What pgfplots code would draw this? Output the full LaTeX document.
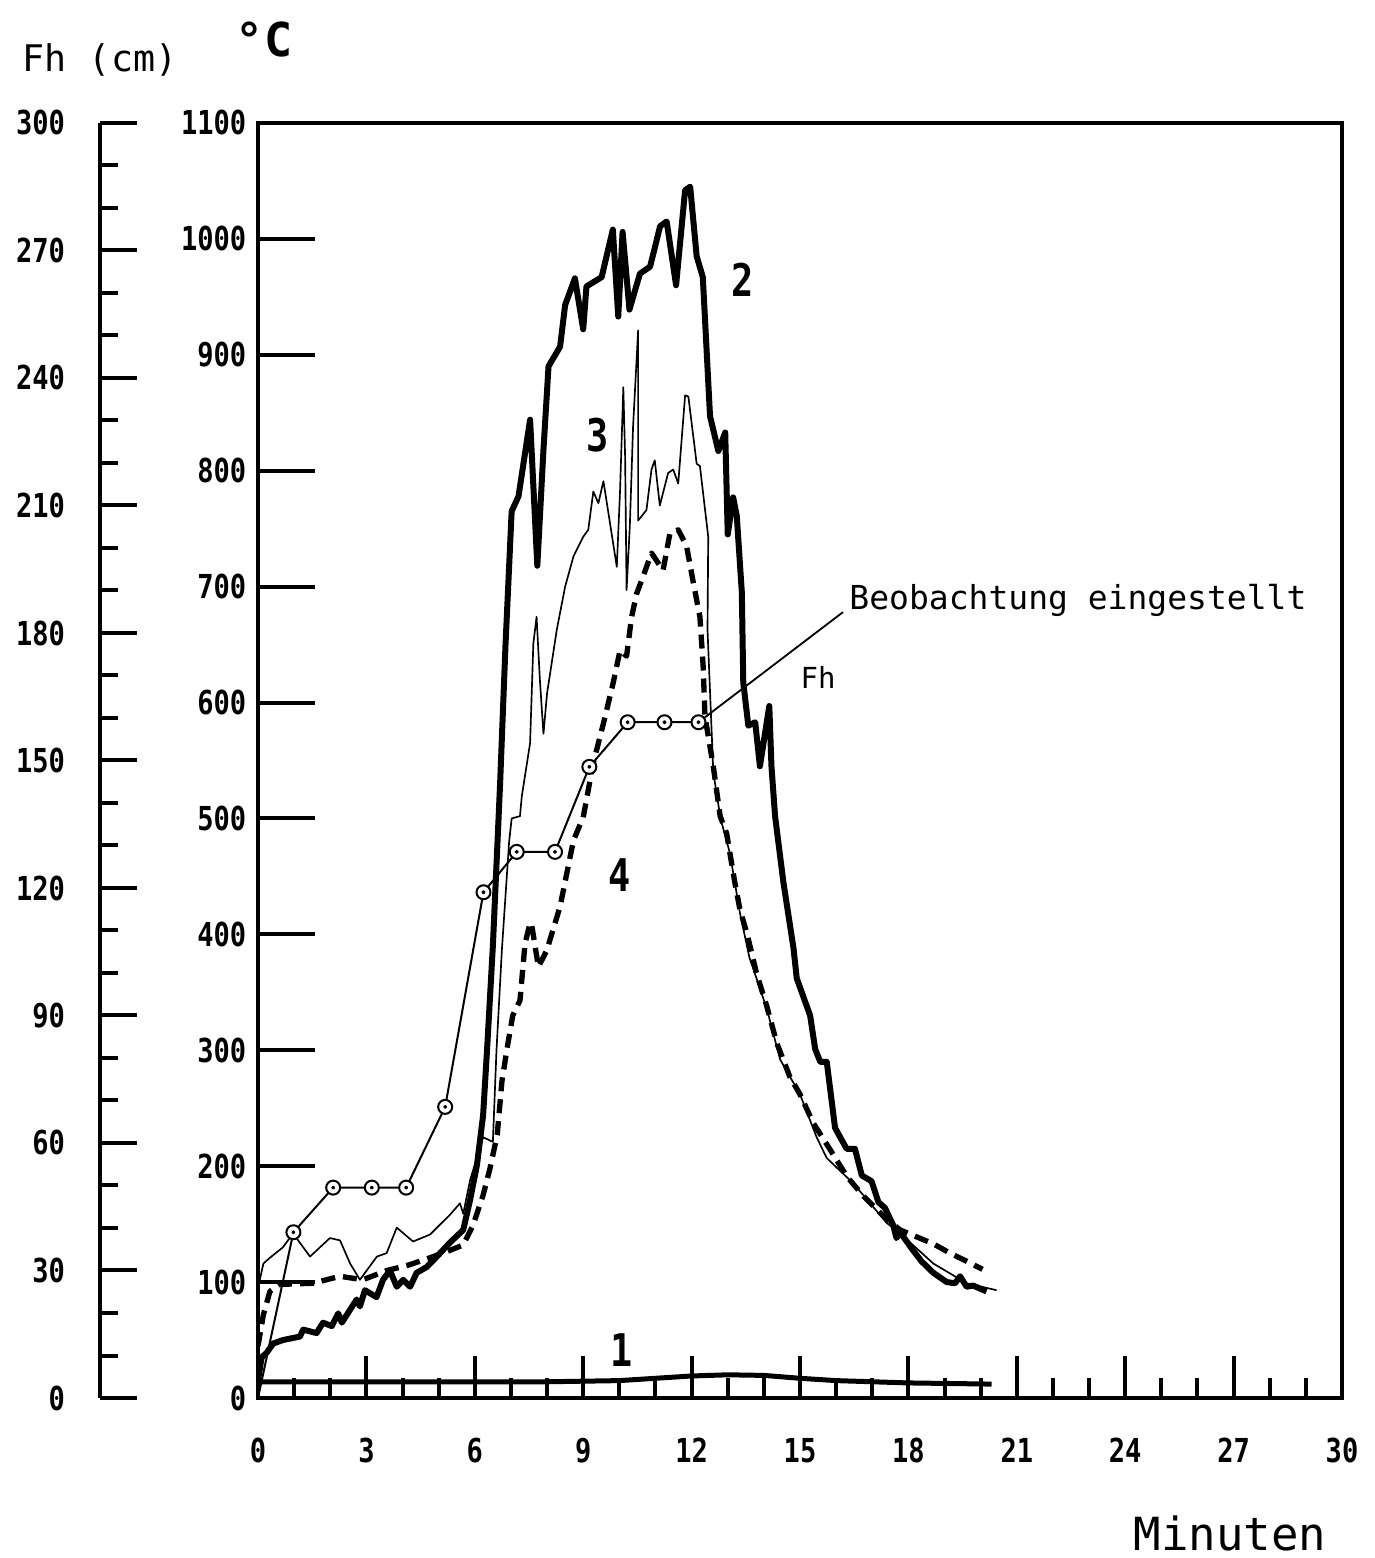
\documentclass[border=0pt]{standalone}
\usepackage{pgfplots}
\usepackage{pgfplotstable}
\pgfplotsset{compat=1.18}
\usepackage{fontspec}
\setmainfont{DejaVu Sans Mono}
\newfontfamily\tickfont[FakeStretch=0.82,BoldFont={DejaVu Sans Mono Bold}]{DejaVu Sans Mono}

% curve 2 (thick solid), t in min, c in degC
\pgfplotstableread{
t c
0 15
0.1 35
0.24 39
0.42 47
0.69 50
1.16 53
1.25 59
1.62 56
1.80 65
2.04 62
2.22 73
2.32 65
2.73 85
2.82 79
2.96 93
3.28 87
3.46 102
3.65 110
3.84 96
4.02 102
4.21 96
4.39 108
4.67 113
4.95 122
5.31 134
5.68 145
5.87 171
6.06 201
6.23 244
6.34 301
6.5 390
6.7 530
6.85 650
7.02 765
7.21 778
7.53 844
7.73 718
7.90 818
8.04 890
8.36 907
8.50 943
8.77 966
9.0 922
9.09 959
9.51 967
9.82 1008
9.97 933
10.09 1006
10.28 939
10.57 970
10.85 976
11.13 1011
11.31 1015
11.57 960
11.82 1042
11.96 1045
12.14 985
12.31 967
12.51 847
12.74 817
12.93 833
13.0 745
13.15 777
13.25 761
13.39 695
13.43 617
13.57 580
13.76 583
13.89 545
14.15 597
14.21 545
14.31 502
14.54 445
14.82 388
14.91 362
15.28 330
15.42 301
15.56 290
15.74 290
15.97 233
16.29 215
16.52 215
16.71 192
16.98 187
17.17 169
17.35 164
17.58 149
17.67 138
17.77 143
18.09 129
18.36 118
18.69 108
19.06 100
19.29 99
19.43 105
19.61 96
19.79 97
20.16 92
}\curvetwo

% curve 3 (thin solid)
\pgfplotstableread{
t c
0 95
0.15 116
0.33 121
0.69 130
0.97 142
1.44 122
1.99 138
2.27 136
2.55 116
2.82 102
3.29 122
3.56 125
3.84 147
4.29 135
4.76 141
5.31 158
5.59 168
5.68 159
5.87 188
6.23 225
6.50 221
6.6 300
6.75 387
6.95 480
7.02 500
7.25 502
7.30 519
7.53 565
7.62 651
7.71 674
7.80 620
7.90 573
8.0 608
8.27 663
8.50 700
8.73 726
9.0 743
9.14 749
9.28 782
9.42 772
9.56 791
9.74 755
9.93 717
10.02 783
10.11 872
10.16 812
10.20 697
10.29 752
10.38 838
10.52 921
10.52 757
10.75 766
10.89 801
10.98 809
11.12 770
11.35 798
11.49 801
11.63 789
11.82 865
11.91 864
12.14 806
12.23 804
12.46 743
12.44 663
12.6 540
12.8 500
13.06 470
13.34 418
13.6 380
14.08 336
14.45 292
15.0 262
15.46 225
15.74 207
16.48 185
17.40 151
17.77 142
18.69 116
19.61 99
20.44 93
}\curvethree

% curve 4 (thick dashed)
\pgfplotstableread{
t c
0 45
0.15 72
0.33 92
0.6 98
1.52 99
2.27 105
2.9 102
3.57 110
4.2 115
4.76 121
5.2 126
5.68 132
5.95 149
6.23 175
6.42 198
6.62 227
6.75 273
6.89 301
7.05 330
7.25 343
7.39 392
7.53 410
7.57 409
7.76 372
7.99 386
8.36 424
8.73 481
9.0 501
9.28 548
9.56 582
9.83 617
10.02 645
10.20 640
10.34 674
10.48 694
10.66 709
10.89 729
11.21 714
11.40 746
11.63 749
11.86 735
12.05 703
12.23 674
12.32 631
12.37 588
12.60 545
12.79 502
12.97 487
13.20 444
13.34 421
13.53 401
13.80 366
14.08 338
14.36 306
14.72 277
15.0 262
15.37 237
15.84 214
16.30 191
16.76 174
17.31 157
17.77 145
18.23 139
18.69 133
19.15 125
19.61 118
20.05 111
}\curvefour

% curve 1 (thick solid, near the base)
\pgfplotstableread{
t c
0 14
4 14
8 14
10 15
11 17
12 19
13 20
14 19.5
15 17
16 15
17 14
18 13
20.3 12
}\curveone

% Fh in cm
\pgfplotstableread{
t fh
0 0
0.98 39
2.08 49.5
3.15 49.5
4.10 49.5
5.18 68.5
6.24 119
7.16 128.5
8.22 128.5
9.17 148.5
10.23 159
11.25 159
12.19 159
}\fhdata

\begin{document}
\begin{tikzpicture}
% Fh (cm) scale
\begin{axis}[
  at={(-47.4pt,0pt)}, anchor=south west,
  scale only axis, width=10pt, height=382.5pt,
  xmin=0, xmax=1, ymin=0, ymax=300,
  hide x axis, axis y line*=left,
  axis line style={-, line width=1.2pt},
  every outer y axis line/.append style={-},
  ytick={0,30,...,300}, minor y tick num=2,
  tick align=inside, major tick length=11pt, minor tick length=5.5pt,
  every tick/.style={line width=1.2pt, black},
  yticklabel style={font=\tickfont\bfseries\fontsize{9.9}{10}\selectfont, xshift=-7pt},
  /pgf/number format/assume math mode=true,
]
\addplot[draw=none] coordinates {(0,0)};
\end{axis}
% x ticks of the main frame
\begin{axis}[
  at={(0pt,0pt)}, anchor=south west,
  scale only axis, width=325.2pt, height=382.5pt,
  xmin=0, xmax=30, ymin=0, ymax=1100,
  hide y axis, axis x line*=bottom,
  axis line style={-, line width=1.2pt},
  every outer x axis line/.append style={-},
  xtick={0,3,...,30}, minor x tick num=2,
  tick align=inside, major tick length=12.6pt, minor tick length=6pt,
  every tick/.style={line width=1.2pt, black},
  xticklabel style={font=\tickfont\bfseries\fontsize{9.9}{10}\selectfont, yshift=-8.5pt},
  /pgf/number format/assume math mode=true,
]
\addplot[draw=none] coordinates {(0,0)};
\end{axis}
% main frame and curves
\begin{axis}[
  at={(0pt,0pt)}, anchor=south west,
  scale only axis, width=325.2pt, height=382.5pt,
  xmin=0, xmax=30, ymin=0, ymax=1100,
  axis line style={line width=1.2pt},
  xtick=\empty,
  ytick={0,100,...,1100}, ytick pos=left,
  tick align=inside, major tick length=17pt,
  every tick/.style={line width=1.2pt, black},
  yticklabel style={font=\tickfont\bfseries\fontsize{9.9}{10}\selectfont},
  /pgf/number format/assume math mode=true,
  /pgf/number format/1000 sep={},
  every axis plot/.append style={line join=round},
]
\addplot[black, line width=1.5pt] table[x=t,y=c] {\curveone};
\addplot[black, line width=1.2pt] coordinates {(0,100) (1.25,100)};
\addplot[black, line width=0.5pt] table[x=t,y=c] {\curvethree};
\addplot[black, line width=1.6pt, dash pattern=on 4.2pt off 2.4pt] table[x=t,y=c] {\curvefour};
\addplot[black, line width=1.8pt] table[x=t,y=c] {\curvetwo};
\addplot[black, line width=0.6pt, mark=*, mark size=2.1pt, mark indices={2,...,13},
  mark options={fill=white, line width=0.6pt}]
  table[x=t, y expr=\thisrow{fh}*11/3] {\fhdata};
\addplot[only marks, mark=*, mark size=0.4pt, mark indices={2,...,13}, black]
  table[x=t, y expr=\thisrow{fh}*11/3] {\fhdata};
\draw[line width=0.55pt] (axis cs:12.19,583) -- (axis cs:16.19,678);
\node[anchor=west, inner sep=0pt, font=\fontsize{9.9}{10}\selectfont]
  at (axis cs:16.35,688) {Beobachtung eingestellt};
\node[font=\fontsize{8.7}{9}\selectfont] at (axis cs:15.5,622) {Fh};
\node[font=\tickfont\bfseries\fontsize{13.5}{14}\selectfont] at (axis cs:13.4,965) {2};
\node[font=\tickfont\bfseries\fontsize{13.5}{14}\selectfont] at (axis cs:9.41,831) {3};
\node[font=\tickfont\bfseries\fontsize{13.5}{14}\selectfont] at (axis cs:10.02,451) {4};
\node[font=\tickfont\bfseries\fontsize{13.5}{14}\selectfont] at (axis cs:10.07,41) {1};
\end{axis}
\node[font=\fontsize{11}{12}\selectfont] at (-47.4pt,401.4pt) {Fh (cm)};
\node[font=\bfseries\fontsize{14}{15}\selectfont] at (1.8pt,407.4pt) {°C};
\node[font=\fontsize{13.7}{14}\selectfont] at (291.6pt,-40.5pt) {Minuten};
\pgfresetboundingbox
\useasboundingbox (-77.4pt,-48pt) rectangle (334.8pt,419.4pt);
\end{tikzpicture}
\end{document}
